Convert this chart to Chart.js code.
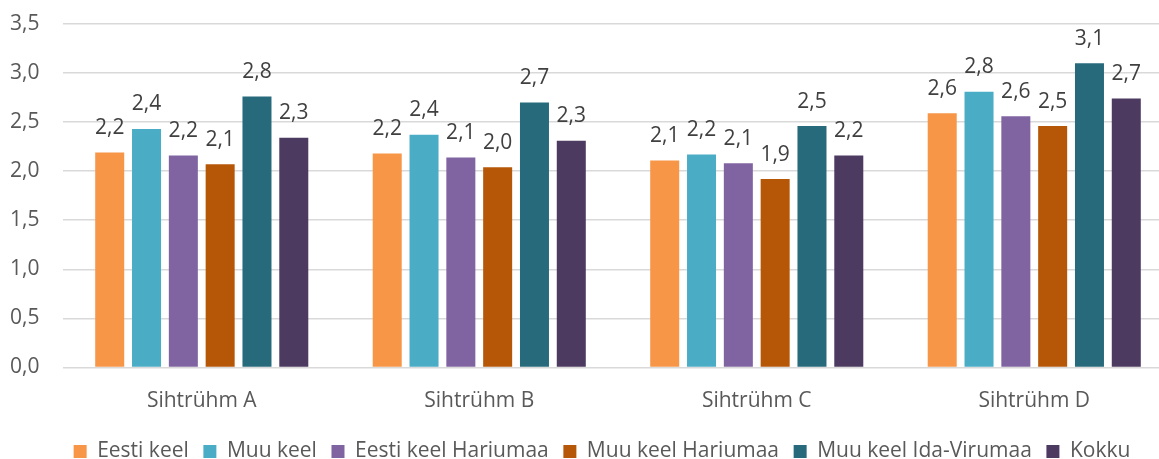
<!DOCTYPE html>
<html><head><meta charset="utf-8">
<script src="https://cdn.jsdelivr.net/npm/chart.js@4.4.0/dist/chart.umd.min.js"></script>
<style>
html,body{margin:0;padding:0;background:#fff;overflow:hidden;}
#wrap{width:1159px;height:459px;overflow:hidden;position:relative;background:#fff;}
canvas{display:block;}
</style></head><body>
<div id="wrap"><canvas id="c" width="1204" height="472"></canvas></div>
<script>
const categories = ['Sihtrühm A', 'Sihtrühm B', 'Sihtrühm C', 'Sihtrühm D'];
const seriesNames = ['Eesti keel', 'Muu keel', 'Eesti keel Hariumaa', 'Muu keel Hariumaa', 'Muu keel Ida-Virumaa', 'Kokku'];
const eestiKeel = [2.19, 2.18, 2.11, 2.59];
const muuKeel = [2.43, 2.37, 2.17, 2.81];
const eestiKeelHariumaa = [2.16, 2.14, 2.08, 2.56];
const muuKeelHariumaa = [2.07, 2.04, 1.92, 2.46];
const muuKeelIdaVirumaa = [2.76, 2.70, 2.46, 3.10];
const kokku = [2.34, 2.31, 2.16, 2.74];
const yTickValues = [0, 0.5, 1.0, 1.5, 2.0, 2.5, 3.0, 3.5];
const seriesColors = ['#F79646', '#4BACC6', '#8064A2', '#B65708', '#276A7C', '#4C3A60'];

const seriesValues = [eestiKeel, muuKeel, eestiKeelHariumaa, muuKeelHariumaa, muuKeelIdaVirumaa, kokku];
const FONT = "'Open Sans', 'Noto Sans', sans-serif";
const FS = 21;
const fmt = v => (Math.round(v * 10) / 10).toFixed(1).replace('.', ',');

const dataLabels = {
  id: 'dataLabels',
  afterDatasetsDraw(chart) {
    const ctx = chart.ctx;
    ctx.save();
    ctx.font = FS + 'px ' + FONT;
    ctx.fillStyle = '#404040';
    ctx.textAlign = 'center';
    ctx.textBaseline = 'alphabetic';
    chart.data.datasets.forEach((ds, di) => {
      const meta = chart.getDatasetMeta(di);
      meta.data.forEach((bar, i) => {
        ctx.fillText(fmt(ds.data[i]), bar.x, bar.y - 18.5);
      });
    });
    ctx.restore();
  }
};

new Chart(document.getElementById('c'), {
  type: 'bar',
  data: {
    labels: categories,
    datasets: seriesNames.map((name, i) => ({
      label: name,
      data: seriesValues[i],
      backgroundColor: seriesColors[i],
      borderWidth: 0,
      categoryPercentage: 0.796,
      barPercentage: 0.788
    }))
  },
  options: {
    responsive: false,
    animation: false,
    devicePixelRatio: 1,
    layout: { padding: { top: 24, left: 10, right: 10, bottom: 0 } },
    plugins: {
      legend: {
        position: 'bottom',
        labels: {
          boxWidth: 13, boxHeight: 13, padding: 14.6,
          color: '#595959',
          font: { family: FONT, size: FS }
        }
      },
      tooltip: { enabled: false }
    },
    scales: {
      x: {
        grid: { display: false, drawTicks: false },
        border: { display: false },
        ticks: { color: '#595959', font: { family: FONT, size: FS }, padding: 21, maxRotation: 0 },
        afterFit(s) { s.height = 59; }
      },
      y: {
        min: 0, max: 3.5,
        afterBuildTicks(s) { s.ticks = yTickValues.map(v => ({ value: v })); },
        grid: { color: '#d9d9d9', lineWidth: 1.5, drawTicks: false },
        border: { display: false },
        ticks: {
          color: '#595959', font: { family: FONT, size: FS }, padding: 0, crossAlign: 'far',
          callback: v => v.toFixed(1).replace('.', ',')
        },
        afterFit(s) { s.width = 53; }
      },
      yRight: {
        position: 'right',
        display: true,
        min: 0, max: 3.5,
        grid: { display: false, drawTicks: false },
        border: { display: false },
        ticks: { display: false },
        afterFit(s) { s.width = 21; }
      }
    }
  },
  plugins: [dataLabels]
});
</script>
</body></html>
